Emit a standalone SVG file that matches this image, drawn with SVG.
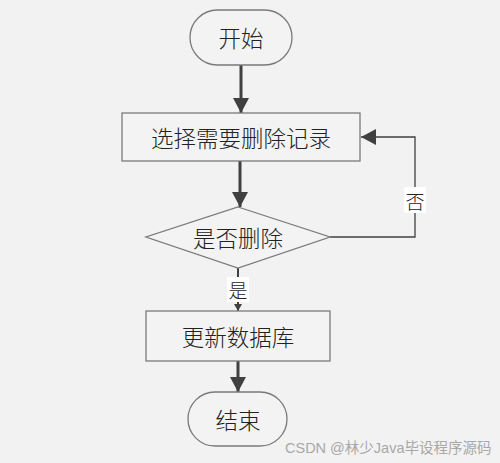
<svg xmlns="http://www.w3.org/2000/svg" width="500" height="463" viewBox="0 0 500 463">
<defs>
<style>
.node{fill:#f3f3f3;stroke:#7a7a7a;stroke-width:1.3}
.t{font-family:"Noto Sans CJK SC","Noto Sans",sans-serif;font-size:22.5px;font-weight:300;fill:#222;text-anchor:middle;dominant-baseline:central}
.lbl{font-family:"Noto Sans CJK SC","Noto Sans",sans-serif;font-size:19px;font-weight:300;fill:#222;text-anchor:middle;dominant-baseline:central}
.c{fill:none;stroke:#404040}
</style>
<marker id="big" markerWidth="16" markerHeight="16" refX="15" refY="8" orient="auto" markerUnits="userSpaceOnUse">
<path d="M0,0 L15,8 L0,16 Z" fill="#404040"/>
</marker>
<marker id="sm" markerWidth="8" markerHeight="8" refX="7" refY="4" orient="auto" markerUnits="userSpaceOnUse">
<path d="M0,0 L7,4 L0,8 Z" fill="#404040"/>
</marker>
</defs>
<rect width="500" height="463" fill="#f2f2f2"/>
<g id="connectors">
<line class="c" x1="241" y1="65" x2="241" y2="113" stroke-width="3" marker-end="url(#big)"/>
<line class="c" x1="240" y1="161" x2="240" y2="207" stroke-width="3" marker-end="url(#big)"/>
<polyline class="c" points="330,237 415,237 415,137 361,137" stroke-width="1.3" marker-end="url(#big)"/>
<line class="c" x1="238" y1="268" x2="238" y2="311" stroke-width="2" marker-end="url(#sm)"/>
<line class="c" x1="238" y1="361" x2="238" y2="392" stroke-width="3" marker-end="url(#big)"/>
<rect x="404" y="187" width="22" height="26" fill="#ffffff"/>
<text class="lbl" x="415" y="200">否</text>
<rect x="227" y="277" width="22" height="25" fill="#ffffff"/>
<text class="lbl" x="238" y="289">是</text>
</g>
<g id="start">
<rect class="node" x="190" y="10" width="102" height="55" rx="27.5"/>
<text class="t" x="241" y="37">开始</text>
</g>
<g id="select">
<rect class="node" x="122" y="113" width="238" height="48"/>
<text class="t" x="241" y="137">选择需要删除记录</text>
</g>
<g id="decide">
<polygon class="node" points="238,207 330,237 238,268 146,237"/>
<text class="t" x="238" y="237">是否删除</text>
</g>
<g id="update">
<rect class="node" x="146" y="311" width="184" height="50"/>
<text class="t" x="238" y="336">更新数据库</text>
</g>
<g id="end">
<rect class="node" x="188" y="392" width="99" height="54" rx="27"/>
<text class="t" x="238" y="419">结束</text>
</g>
<text x="285" y="453" font-family="'Liberation Sans','Noto Sans CJK SC',sans-serif" font-size="14.5" fill="#a8a8a8">CSDN @林少Java毕设程序源码</text>
</svg>
